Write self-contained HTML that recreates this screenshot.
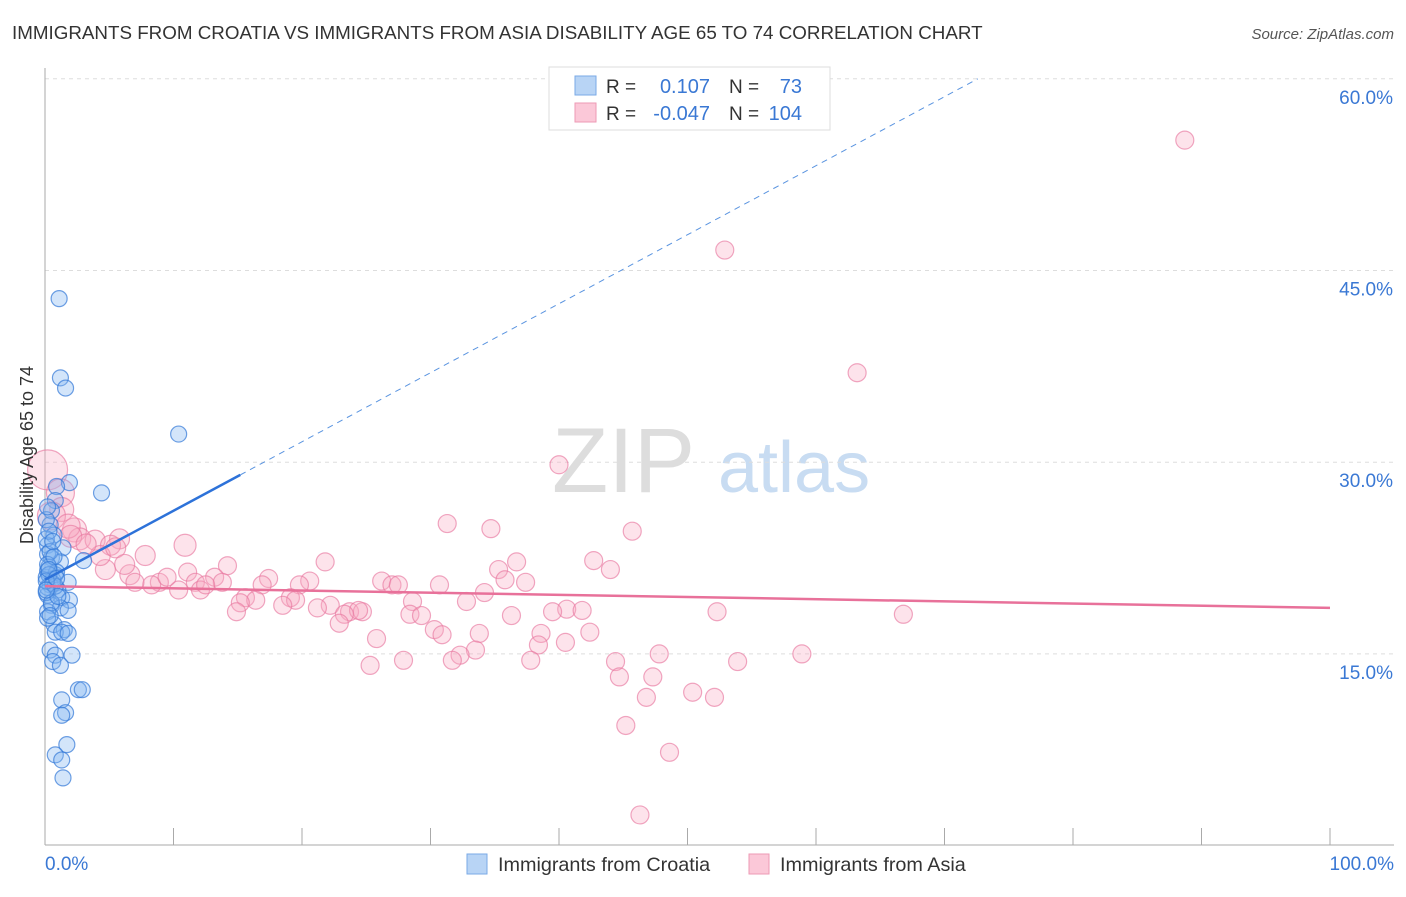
<!DOCTYPE html>
<html><head><meta charset="utf-8"><style>
body{margin:0;background:#fff;font-family:"Liberation Sans",sans-serif;}
svg text{font-family:"Liberation Sans",sans-serif;}
</style></head><body>
<svg width="1406" height="892" viewBox="0 0 1406 892">
<text x="12" y="39" font-size="18.8" fill="#333">IMMIGRANTS FROM CROATIA VS IMMIGRANTS FROM ASIA DISABILITY AGE 65 TO 74 CORRELATION CHART</text>
<text x="1394" y="39" font-size="15" fill="#555" font-style="italic" text-anchor="end">Source: ZipAtlas.com</text>
<g>
<text x="552" y="492" font-size="92" fill="#ddd" font-family="Liberation Serif">ZIP</text>
<text x="718" y="492" font-size="72" fill="#c8dcf2">atlas</text>
</g>
<g id="grid"></g>
<g id="axes"></g>
<g id="marks"></g>
<g>
<rect x="549" y="67" width="281" height="63" fill="#fff" stroke="#ddd"/>
<rect x="575" y="76" width="21" height="19" fill="#b8d4f5" stroke="#7aaae6"/>
<rect x="575" y="103" width="21" height="19" fill="#fbc8d8" stroke="#ee9ab5"/>
<text x="606" y="93" font-size="19" fill="#333">R =</text>
<text x="710" y="93" font-size="20" fill="#3a78d4" text-anchor="end">0.107</text>
<text x="729" y="93" font-size="19" fill="#333">N =</text>
<text x="802" y="93" font-size="20" fill="#3a78d4" text-anchor="end">73</text>
<text x="606" y="120" font-size="19" fill="#333">R =</text>
<text x="710" y="120" font-size="20" fill="#3a78d4" text-anchor="end">-0.047</text>
<text x="729" y="120" font-size="19" fill="#333">N =</text>
<text x="802" y="120" font-size="20" fill="#3a78d4" text-anchor="end">104</text>
</g>
<g>
<rect x="467" y="854" width="20" height="20" fill="#b8d4f5" stroke="#7aaae6"/>
<text x="498" y="871" font-size="19.8" fill="#333">Immigrants from Croatia</text>
<rect x="749" y="854" width="20" height="20" fill="#fbc8d8" stroke="#ee9ab5"/>
<text x="780" y="871" font-size="19.8" fill="#333">Immigrants from Asia</text>
</g>
<text transform="translate(33,455) rotate(-90)" font-size="18" fill="#333" text-anchor="middle">Disability Age 65 to 74</text>
</svg>
<script>
const yTicks=[15,30,45,60];
const yTickLabels=["15.0%","30.0%","45.0%","60.0%"];
const xTicks=[0,10,20,30,40,50,60,70,80,90,100];
const xEndLabels=["0.0%","100.0%"];
const croatiaX=[1.1,1.2,1.6,10.4,4.4,1.9,0.9,0.8,0.5,0.4,0.7,0.2,1.4,0.5,1.2,3.0,0.2,0.8,1.8,0.4,1.0,0.2,1.3,1.9,0.5,1.2,1.8,0.2,0.7,1.5,0.8,1.3,1.8,0.4,0.8,2.1,0.6,1.2,2.6,2.9,1.3,1.6,1.3,1.7,0.8,1.3,1.4,0.1,0.1,0.2,0.1,0.2,0.3,0.6,0.9,0.1,0.4,0.3,0.6,0.2,0.5,0.8,0.3,0.1,0.7,1.0,0.2,0.4,0.3,0.6,0.1,0.9,0.2];
const croatiaY=[42.8,36.6,35.8,32.2,27.6,28.4,28.1,27.0,26.2,25.1,24.3,23.5,23.3,22.5,22.2,22.3,21.5,21.2,20.6,20.4,20.0,19.6,19.4,19.2,18.8,18.6,18.4,18.3,17.3,16.9,16.7,16.7,16.6,15.3,14.9,14.9,14.4,14.1,12.2,12.2,11.4,10.4,10.2,7.9,7.1,6.7,5.3,25.5,24.0,22.8,21.0,20.2,21.8,20.8,21.4,19.8,23.0,24.6,20.5,22.0,19.0,20.3,21.2,20.7,22.6,19.5,17.8,18.0,21.6,23.8,20.0,20.9,26.5];
const asiaX=[88.7,52.9,63.2,40.0,0.2,1.2,1.3,31.3,34.7,45.7,2.3,2.7,3.9,5.8,5.1,10.9,7.8,14.2,21.8,36.7,42.7,44.0,4.7,6.6,11.1,13.2,17.4,35.3,35.8,37.4,8.9,8.3,7.0,11.7,13.8,16.9,20.6,19.8,26.2,27.0,27.5,30.7,10.4,12.1,12.5,34.2,15.6,16.4,19.1,19.5,32.8,28.6,22.2,21.2,15.2,18.5,14.9,23.7,24.7,24.4,40.6,41.8,39.5,52.3,66.8,23.3,28.4,29.3,36.3,22.9,30.3,30.9,42.4,33.8,38.6,25.8,40.5,38.4,33.5,32.3,31.7,47.8,58.9,27.9,25.3,37.8,44.4,53.9,44.7,47.3,50.4,52.1,46.8,45.2,48.6,46.3,4.3,5.5,0.5,1.8,2.0,3.2,6.2,9.5];
const asiaY=[55.2,46.6,37.0,29.8,29.4,27.6,26.3,25.2,24.8,24.6,24.7,24.0,23.9,24.0,23.5,23.5,22.7,21.9,22.2,22.2,22.3,21.6,21.6,21.2,21.4,21.0,20.9,21.6,20.8,20.6,20.6,20.4,20.6,20.6,20.6,20.4,20.7,20.4,20.7,20.4,20.4,20.4,20.0,20.0,20.4,19.8,19.4,19.2,19.4,19.2,19.1,19.1,18.8,18.6,19.0,18.8,18.3,18.3,18.3,18.4,18.5,18.4,18.3,18.3,18.1,18.1,18.1,18.0,18.0,17.4,16.9,16.5,16.7,16.6,16.6,16.2,15.9,15.7,15.3,14.9,14.5,15.0,15.0,14.5,14.1,14.5,14.4,14.4,13.2,13.2,12.0,11.6,11.6,9.4,7.3,2.4,22.7,23.3,25.8,25.0,24.2,23.6,22.0,21.0];
const asiaR=[9,9,9,9,20,14,12,9,9,9,12,11,10,10,10,11,10,9,9,9,9,9,10,10,9,9,9,9,9,9,9,9,9,9,9,9,9,9,9,9,9,9,9,9,9,9,9,9,9,9,9,9,9,9,9,9,9,9,9,9,9,9,9,9,9,9,9,9,9,9,9,9,9,9,9,9,9,9,9,9,9,9,9,9,9,9,9,9,9,9,9,9,9,9,9,9,10,10,14,12,11,10,10,9];
const croatiaTrend=[20.8,0.54];
const asiaTrend=[20.3,-0.017];
const X0=45,X1=1330,Y0=845.6,YPER=12.78;
const xs=v=>X0+(X1-X0)*v/100;
const ys=v=>Y0-v*YPER;
const NS="http://www.w3.org/2000/svg";
function mk(tag,attrs,parent){const e=document.createElementNS(NS,tag);for(const k in attrs)e.setAttribute(k,attrs[k]);parent.appendChild(e);return e;}
const grid=document.getElementById('grid'),axes=document.getElementById('axes'),marks=document.getElementById('marks');
yTicks.forEach((t,i)=>{
 const l=mk('line',{x1:X0,x2:1394,y1:ys(t),y2:ys(t),stroke:'#ddd','stroke-dasharray':'4,4'},grid);
 
 
 const tx=mk('text',{x:1393,y:ys(t)+25,'font-size':19,fill:'#3a78d4','text-anchor':'end'},axes);
 tx.textContent=yTickLabels[i];
 
 
});
const ax=mk('line',{x1:X0,x2:1394,y1:845,y2:845,stroke:'#aaa'},axes);


const ay=mk('line',{x1:X0,x2:X0,y1:68,y2:845,stroke:'#aaa'},axes);


xTicks.forEach(t=>{
 const l=mk('line',{x1:xs(t),x2:xs(t),y1:828,y2:845,stroke:'#aaa'},axes);
 
 
});
[[0,'start',45],[100,'end',1394]].forEach((d,i)=>{
 const tx=mk('text',{x:d[2],y:870,'font-size':19,fill:'#3a78d4','text-anchor':d[1]},axes);
 tx.textContent=xEndLabels[i];
 
 
});
asiaX.forEach((x,i)=>{
 const c=mk('circle',{cx:xs(x),cy:ys(asiaY[i]),r:asiaR[i],fill:'rgba(248,170,195,0.33)',stroke:'rgba(232,120,160,0.65)','stroke-width':1.2},marks);
 
 
});
croatiaX.forEach((x,i)=>{
 const c=mk('circle',{cx:xs(x),cy:ys(croatiaY[i]),r:8,fill:'rgba(130,180,240,0.35)',stroke:'rgba(50,120,215,0.7)','stroke-width':1.2},marks);
 
 
});
const cEnd=15.2,cDash=(60-croatiaTrend[0])/croatiaTrend[1];
const tl=mk('line',{x1:xs(0),y1:ys(croatiaTrend[0]),x2:xs(cEnd),y2:ys(croatiaTrend[0]+croatiaTrend[1]*cEnd),stroke:'#2d72d9','stroke-width':2.5},marks);


const td=mk('line',{x1:xs(cEnd),y1:ys(croatiaTrend[0]+croatiaTrend[1]*cEnd),x2:xs(cDash),y2:ys(60),stroke:'#5a94e0','stroke-width':1,'stroke-dasharray':'6,5'},marks);


const pl=mk('line',{x1:xs(0),y1:ys(asiaTrend[0]),x2:xs(100),y2:ys(asiaTrend[0]+asiaTrend[1]*100),stroke:'#e8719a','stroke-width':2.5},marks);


</script>
</body></html>
